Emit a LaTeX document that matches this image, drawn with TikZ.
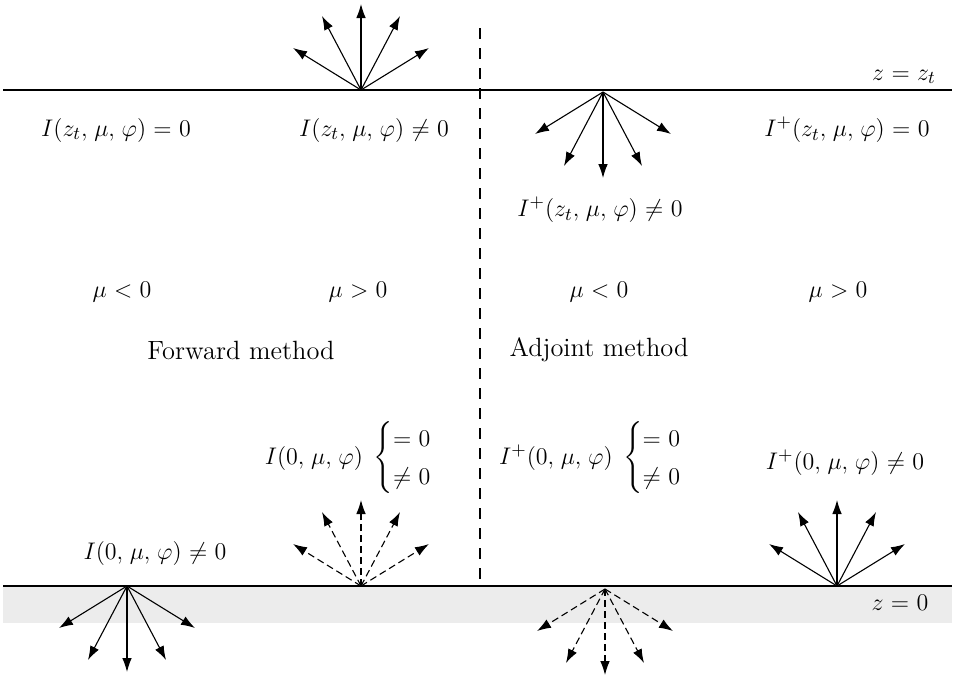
\documentclass[tikz,border=0pt]{standalone}
\usepackage{amsmath}
\usetikzlibrary{arrows.meta}
\thinmuskip=5mu
\thickmuskip=5.5mu plus 3mu
\begin{document}
\begin{tikzpicture}[x=0.5pt,y=-0.5pt,
  ray/.style={line width=0.55pt,-{Latex[length=7pt,width=4.8pt]}},
  dray/.style={ray,dash pattern=on 3.5pt off 2pt},
  lbl/.style={inner sep=0pt,anchor=center,font=\fontsize{13.2}{16}\selectfont},
  surf/.style={line width=0.6pt}]
\useasboundingbox (0,0) rectangle (958,676);
% gray band and surfaces
\fill[gray!15] (3,586) rectangle (952,623);
\coordinate (tl) at (3,90); \coordinate (tr) at (952,90);
\coordinate (bl) at (3,586); \coordinate (br) at (952,586);
\draw[surf] (tl) -- (tr);
\draw[surf] (bl) -- (br);
% dashed separator
\coordinate (dtop) at (480,28); \coordinate (dbot) at (480,582);
\draw[line width=0.6pt,dash pattern=on 5.5pt off 4.5pt] (dtop) -- (dbot);
% fan origins
\coordinate (o1) at (361,90);
\coordinate (o2) at (603,92);
\coordinate (o3) at (127,586);
\coordinate (o4) at (361,586);
\coordinate (o5) at (605,589);
\coordinate (o6) at (837,586);
% fans
\foreach \o/\s/\st in {o1/-1/ray,o2/1/ray,o3/1/ray,o4/-1/dray,o5/1/dray,o6/-1/ray}{
  \foreach \dx/\dy [count=\i] in {-68/42,-39/74,0/86,39/74,68/42}{
    \coordinate (\o-\i) at ([shift={({\dx},{\s*\dy})}]\o);
    \draw[\st] (\o) -- (\o-\i);
  }
}
% labels
\node[lbl] (zt) at (904,77) {$z=z_t$};
\node[lbl] (z0) at (900,603) {$z=0$};
\node[lbl] (f1) at (116,130) {$I(z_t,\mu,\varphi)=0$};
\node[lbl] (f2) at (374,130) {$I(z_t,\mu,\varphi)\neq0$};
\node[lbl] (a1) at (847,130) {$I^{+}(z_t,\mu,\varphi)=0$};
\node[lbl] (a2) at (600,210) {$I^{+}(z_t,\mu,\varphi)\neq0$};
\node[lbl] (m1) at (122,292) {$\mu<0$};
\node[lbl] (m2) at (358,292) {$\mu>0$};
\node[lbl] (m3) at (599,292) {$\mu<0$};
\node[lbl] (m4) at (838,292) {$\mu>0$};
\node[lbl] (fw) at (241,350) {Forward method};
\node[lbl] (ad) at (599,350) {Adjoint method};
\node[lbl] (b1) at (362,458) {$I(0,\mu,\varphi)\mkern3mu\begin{cases}=0\\\neq0\end{cases}$};
\node[lbl] (b2) at (604,458) {$I^{+}(0,\mu,\varphi)\mkern3mu\begin{cases}=0\\\neq0\end{cases}$};
\node[lbl] (b3) at (845,463) {$I^{+}(0,\mu,\varphi)\neq0$};
\node[lbl] (b4) at (155,553) {$I(0,\mu,\varphi)\neq0$};
\end{tikzpicture}
\end{document}
